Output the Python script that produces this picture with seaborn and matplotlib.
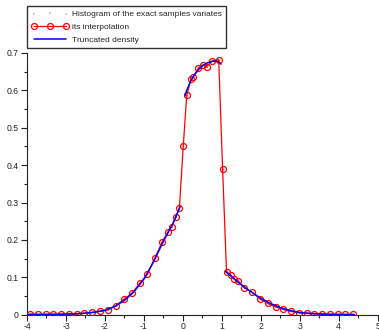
import matplotlib
matplotlib.use("Agg")
import matplotlib.pyplot as plt
import seaborn as sns
import numpy as np
import pandas as pd
from matplotlib.ticker import MultipleLocator, FormatStrFormatter

# ---- data ----
hist_x = [-3.92, -3.73, -3.52, -3.32, -3.13, -2.92, -2.72, -2.53, -2.32, -2.12,
          -1.92, -1.72, -1.52, -1.31, -1.10, -0.91, -0.72, -0.53, -0.38, -0.29,
          -0.18, -0.09, 0.01, 0.10, 0.21, 0.27, 0.40, 0.51, 0.61, 0.74, 0.92,
          1.02, 1.12, 1.23, 1.32, 1.41, 1.58, 1.78, 1.98, 2.18, 2.38, 2.58,
          2.77, 2.98, 3.18, 3.37, 3.58, 3.77, 3.97, 4.17, 4.37]
hist_y = [0.002, 0.001, 0.001, 0.001, 0.001, 0.002, 0.002, 0.004, 0.006, 0.009,
          0.013, 0.024, 0.041, 0.057, 0.085, 0.108, 0.151, 0.195, 0.222, 0.235,
          0.262, 0.284, 0.451, 0.587, 0.630, 0.636, 0.660, 0.668, 0.663, 0.678, 0.682,
          0.389, 0.115, 0.106, 0.095, 0.091, 0.072, 0.060, 0.042, 0.030, 0.021, 0.014,
          0.009, 0.005, 0.004, 0.003, 0.002, 0.001, 0.001, 0.001, 0.001]

dens_left_x = [-4.0, -3.5, -3.0, -2.75, -2.5, -2.25, -2.0, -1.75, -1.5, -1.25,
               -1.0, -0.75, -0.5, -0.25, -0.07]
dens_left_y = [0.0003, 0.0007, 0.0015, 0.0025, 0.004, 0.007, 0.012, 0.022, 0.038,
               0.062, 0.095, 0.142, 0.196, 0.245, 0.289]
dens_mid_x = [0.05, 0.1, 0.2, 0.3, 0.4, 0.5, 0.6, 0.7, 0.8, 0.9, 0.98]
dens_mid_y = [0.585, 0.600, 0.625, 0.642, 0.655, 0.665, 0.672, 0.676, 0.678, 0.677, 0.670]
dens_right_x = [1.1, 1.25, 1.5, 1.75, 2.0, 2.25, 2.5, 2.75, 3.0, 3.25, 3.5, 3.75, 4.0, 4.4]
dens_right_y = [0.115, 0.102, 0.080, 0.061, 0.044, 0.030, 0.019, 0.011, 0.006, 0.0035,
                0.002, 0.001, 0.0006, 0.0002]

x_ticks = [-4, -3, -2, -1, 0, 1, 2, 3, 4, 5]
y_ticks = [0, 0.1, 0.2, 0.3, 0.4, 0.5, 0.6, 0.7]

labels = ["Histogram of the exact samples variates", "its interpolation", "Truncated density"]

sns.set_style("ticks")
plt.rcParams['font.family'] = ['Liberation Sans', 'DejaVu Sans']

fig = plt.figure(figsize=(3.79, 3.30), dpi=100)
ax = fig.add_axes([27/379, (330-314.7)/330, 350.7/379, (314.7-52.9)/330])

hist_df = pd.DataFrame({"x": hist_x, "y": hist_y})

# histogram points
sns.scatterplot(data=hist_df, x="x", y="y", ax=ax, marker='.', s=4, color='#888888',
                linewidth=0, label=labels[0], zorder=2)
# interpolation
sns.lineplot(data=hist_df, x="x", y="y", ax=ax, sort=False, estimator=None,
             color='#ff0000', linewidth=0.9, marker='o', markersize=4.3,
             markerfacecolor='none', markeredgecolor='#ff0000', markeredgewidth=0.9,
             label=labels[1], zorder=3)
# truncated density (three pieces)
for i, (dx, dy) in enumerate([(dens_left_x, dens_left_y), (dens_mid_x, dens_mid_y),
                              (dens_right_x, dens_right_y)]):
    sns.lineplot(x=dx, y=dy, ax=ax, sort=False, estimator=None, color='#0000ff',
                 linewidth=1.1, label=labels[2] if i == 0 else None, zorder=4)

ax.set_xlim(-4, 5)
ax.set_ylim(0, 0.7)
ax.set_xlabel("")
ax.set_ylabel("")
ax.set_xticks(x_ticks)
ax.set_yticks(y_ticks)
ax.xaxis.set_minor_locator(MultipleLocator(0.5))
ax.yaxis.set_minor_locator(MultipleLocator(0.05))
ax.xaxis.set_major_formatter(FormatStrFormatter('%g'))
ax.yaxis.set_major_formatter(FormatStrFormatter('%g'))
ax.tick_params(axis='both', which='major', length=4, width=0.8, labelsize=6.2,
               colors='#222222', pad=2, direction='out')
ax.tick_params(axis='x', which='major', pad=1.2)
ax.tick_params(axis='both', which='minor', length=2, width=0.8, direction='out')
for s in ['top', 'right']:
    ax.spines[s].set_visible(False)
for s in ['left', 'bottom']:
    ax.spines[s].set_linewidth(0.8)
    ax.spines[s].set_color('#222222')

leg = ax.legend(loc='upper left', bbox_to_anchor=(0.0, (314.7-6)/261.8),
                borderaxespad=0, fontsize=6.0, frameon=True, fancybox=False,
                edgecolor='black', numpoints=3, scatterpoints=3,
                handlelength=4.5, handletextpad=0.4, labelspacing=0.6,
                borderpad=0.5)
leg.get_frame().set_linewidth(1.0)

fig.savefig("out.png", dpi=100)
